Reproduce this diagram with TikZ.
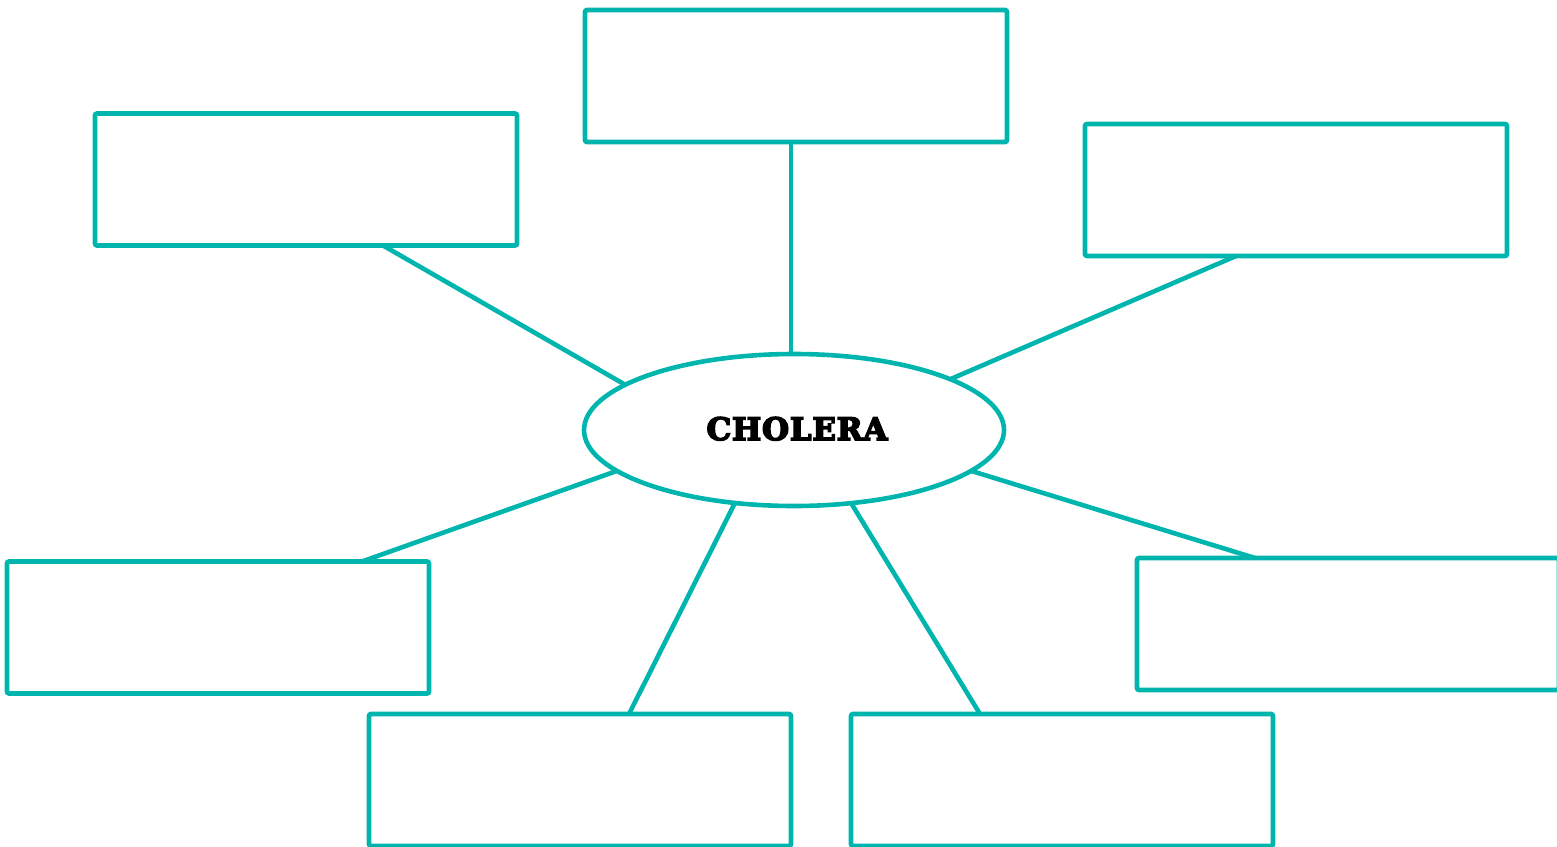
\documentclass[tikz,border=0pt]{standalone}
\usepackage{fontspec}
\newfontfamily\slabfont[FakeBold=5,LetterSpace=2.5]{DejaVu Serif}
\usetikzlibrary{shapes.geometric}
\definecolor{teal1}{RGB}{0,181,173}
\begin{document}
\begin{tikzpicture}[x=0.5pt,y=-0.5pt,
  box/.style={draw=teal1,line width=2.3pt,rounded corners=1pt,minimum width=211pt,minimum height=66pt,inner sep=0pt,outer sep=0pt},
  link/.style={draw=teal1,line width=2.3pt},
  hub/.style={ellipse,draw=teal1,line width=2.3pt,minimum width=210pt,minimum height=76pt,inner sep=0pt,outer sep=0pt}]
\useasboundingbox (0,0) rectangle (1557,846);
\node[box] (top) at (796,76) {};
\node[box] (tl) at (306,179.5) {};
\node[box] (tr) at (1296,190) {};
\node[box] (bl) at (218,627.5) {};
\node[box] (bml) at (580,780) {};
\node[box] (bmr) at (1062,780) {};
\node[box] (r) at (1348,624) {};
\node[hub] (ell) at (794,430) {\hspace*{3pt}\raisebox{1.5pt}{\slabfont\bfseries\fontsize{15.5}{18}\selectfont CHOLERA}};
\draw[link] ([xshift=-2.5pt]top.south) -- ([xshift=-1.5pt]ell.north);
\draw[link] ([xshift=38.5pt]tl.south) -- (ell.165);
\draw[link] ([xshift=-30pt]tr.south) -- (ell.18);
\draw[link] ([xshift=72pt]bl.north) -- (ell.193);
\draw[link] ([xshift=24.5pt]bml.north) -- (ell.231);
\draw[link] ([xshift=-41pt]bmr.north) -- (ell.308);
\draw[link] ([xshift=-46.5pt]r.north) -- (ell.347);
\end{tikzpicture}
\end{document}
